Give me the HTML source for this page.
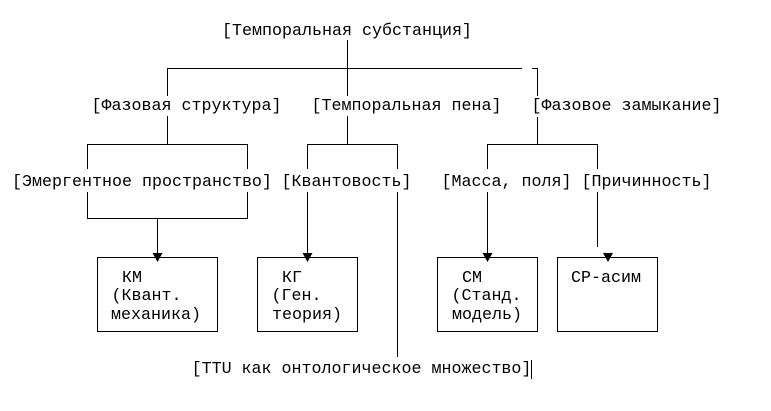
<!DOCTYPE html>
<html>
<head>
<meta charset="utf-8">
<style>
  html, body { margin: 0; padding: 0; background: #ffffff; }
  body { width: 771px; height: 411px; overflow: hidden; }
  svg { display: block; }
  text { font-family: "Liberation Mono", "DejaVu Sans Mono", monospace; font-size: 16.67px; fill: #000; }
</style>
</head>
<body>
<svg width="771" height="411" viewBox="0 0 771 411" xmlns="http://www.w3.org/2000/svg">
  <rect x="0" y="0" width="771" height="411" fill="#fff"/>
  <g stroke="#000" stroke-width="1" fill="none" shape-rendering="crispEdges">
    <!-- top vertical -->
    <line x1="347.5" y1="40" x2="347.5" y2="96"/>
    <line x1="347.5" y1="116" x2="347.5" y2="145"/>
    <!-- top horizontal -->
    <line x1="167" y1="68.5" x2="522" y2="68.5"/>
    <!-- right tick -->
    <line x1="532" y1="68.5" x2="538" y2="68.5"/>
    <line x1="537.5" y1="68" x2="537.5" y2="96"/>
    <line x1="537.5" y1="117" x2="537.5" y2="145"/>
    <!-- left branch -->
    <line x1="167.5" y1="68" x2="167.5" y2="96"/>
    <line x1="167.5" y1="116" x2="167.5" y2="145"/>

    <!-- row 3 horizontals -->
    <line x1="87" y1="144.5" x2="248" y2="144.5"/>
    <line x1="307" y1="144.5" x2="398" y2="144.5"/>
    <line x1="487" y1="144.5" x2="598" y2="144.5"/>

    <!-- left group verticals -->
    <line x1="87.5" y1="144" x2="87.5" y2="169"/>
    <line x1="87.5" y1="192" x2="87.5" y2="219"/>
    <line x1="247.5" y1="144" x2="247.5" y2="169"/>
    <line x1="247.5" y1="192" x2="247.5" y2="219"/>
    <line x1="87" y1="218.5" x2="248" y2="218.5"/>
    <line x1="157.5" y1="218" x2="157.5" y2="254"/>

    <!-- middle group -->
    <line x1="307.5" y1="144" x2="307.5" y2="169"/>
    <line x1="307.5" y1="192" x2="307.5" y2="254"/>
    <line x1="397.5" y1="144" x2="397.5" y2="169"/>
    <line x1="397.5" y1="192" x2="397.5" y2="357"/>

    <!-- right group -->
    <line x1="487.5" y1="144" x2="487.5" y2="169"/>
    <line x1="487.5" y1="192" x2="487.5" y2="254"/>
    <line x1="597.5" y1="144" x2="597.5" y2="169"/>
    <line x1="597.5" y1="192" x2="597.5" y2="247"/>

    <!-- boxes -->
    <rect x="97.5" y="257.5" width="120" height="74"/>
    <rect x="257.5" y="257.5" width="100" height="74"/>
    <rect x="437.5" y="257.5" width="100" height="74"/>
    <rect x="557.5" y="257.5" width="100" height="74"/>

    <!-- cursor bar -->
    <line x1="531.5" y1="360" x2="531.5" y2="379"/>
  </g>

  <!-- arrowheads -->
  <g fill="#000">
    <polygon points="152.5,253 162.5,253 157.5,262"/>
    <polygon points="302.5,253 312.5,253 307.5,262"/>
    <polygon points="482.5,253 492.5,253 487.5,262"/>
    <polygon points="603,253 613,253 608,262"/>
  </g>

  <!-- labels -->
  <text x="347" y="35" text-anchor="middle">[Темпоральная субстанция]</text>
  <text x="186.5" y="110" text-anchor="middle">[Фазовая структура]</text>
  <text x="406.5" y="110" text-anchor="middle">[Темпоральная пена]</text>
  <text x="626.5" y="110" text-anchor="middle">[Фазовое замыкание]</text>
  <text x="142" y="186" text-anchor="middle">[Эмергентное пространство]</text>
  <text x="346.5" y="186" text-anchor="middle">[Квантовость]</text>
  <text x="506.5" y="186" text-anchor="middle">[Масса, поля]</text>
  <text x="646.5" y="186" text-anchor="middle">[Причинность]</text>
  <text x="361.5" y="373" text-anchor="middle">[TTU как онтологическое множество]</text>

  <!-- box texts -->
  <text x="122" y="282">КМ</text>
  <text x="111.5" y="300">(Квант.</text>
  <text x="111" y="319">механика)</text>

  <text x="282" y="282">КГ</text>
  <text x="271.5" y="300">(Ген.</text>
  <text x="272" y="319">теория)</text>

  <text x="462" y="282">СМ</text>
  <text x="451.5" y="300">(Станд.</text>
  <text x="452" y="319">модель)</text>

  <text x="571" y="282">СР-асим</text>
</svg>
</body>
</html>
